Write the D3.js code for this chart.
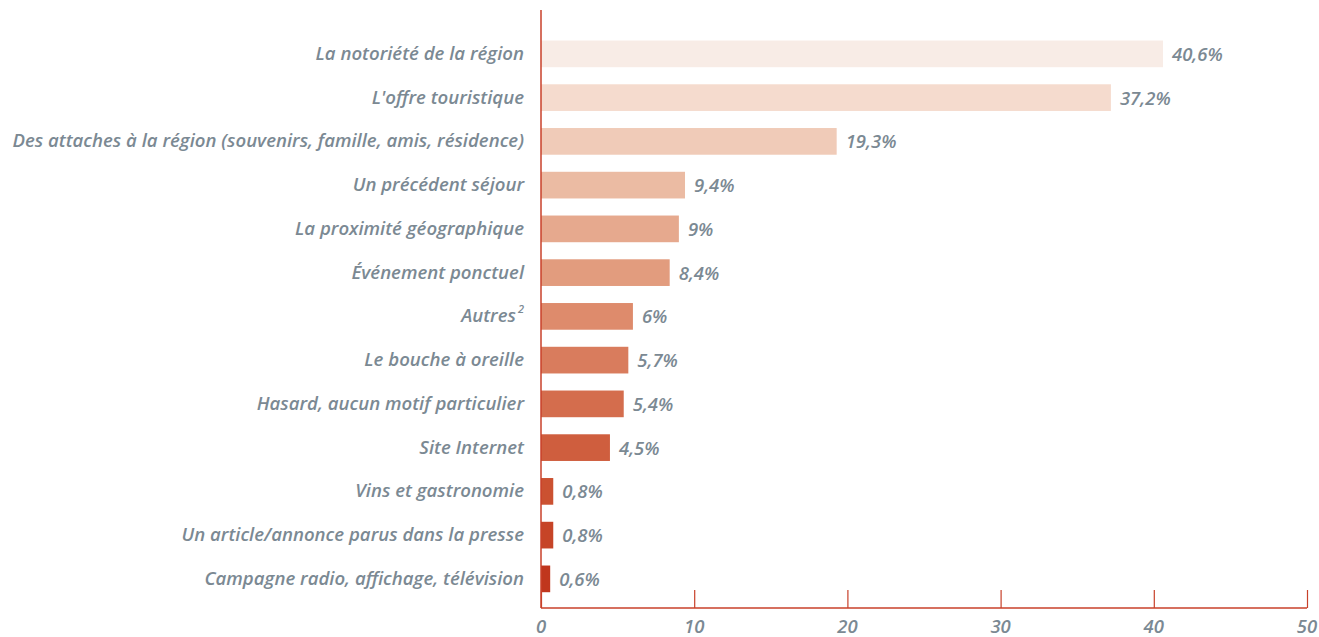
<!doctype html>
<html lang="fr">
<head>
<meta charset="utf-8">
<script src="https://cdn.jsdelivr.net/npm/d3@7"></script>
<style>
	body{
		padding:0px;
		margin:0px;
		background:#fff;
	}
	text{
		font-family:"Open Sans", "DejaVu Sans", sans-serif;
		font-style:italic;
		font-weight:600;
		fill:#7b8993;
	}
</style>
</head>
<body>
<svg id="chartSvg"></svg>
<script>
// data
var categories = [
	"La notoriété de la région",
	"L'offre touristique",
	"Des attaches à la région (souvenirs, famille, amis, résidence)",
	"Un précédent séjour",
	"La proximité géographique",
	"Événement ponctuel",
	"Autres",
	"Le bouche à oreille",
	"Hasard, aucun motif particulier",
	"Site Internet",
	"Vins et gastronomie",
	"Un article/annonce parus dans la presse",
	"Campagne radio, affichage, télévision"
];
var values = [40.6, 37.2, 19.3, 9.4, 9, 8.4, 6, 5.7, 5.4, 4.5, 0.8, 0.8, 0.6];
var valueLabels = ["40,6%","37,2%","19,3%","9,4%","9%","8,4%","6%","5,7%","5,4%","4,5%","0,8%","0,8%","0,6%"];
var xTicks = [0, 10, 20, 30, 40, 50];
var colors = ["#f8ece6","#f5dbce","#f0cbb8","#ebbba3","#e6a98e","#e29c7e","#de8b6c","#d97c5d","#d46d4d","#cf5e3e","#cb5131","#c64427","#c0361d"];

var width = 1319;
var height = 637;
var mLeft = 541;
var mRight = 1307;
var mTop = 32;
var step = 43.75;
var axisY = 608;

var svg = d3.select("#chartSvg").attr("width", width).attr("height", height);

var xScale = d3.scaleLinear().domain([0, 50]).range([mLeft, mRight]);
var yScale = d3.scaleBand().domain(categories).range([mTop, mTop + step*13])
	.paddingInner(0.39).paddingOuter(0.195);

//bars
svg.append("g").selectAll("rect")
	.data(values)
	.enter()
	.append("rect")
	.attr("x", xScale(0))
	.attr("y", function(d,i){return yScale(categories[i]);})
	.attr("width", function(d){return xScale(d)-xScale(0);})
	.attr("height", yScale.bandwidth())
	.attr("fill", function(d,i){return colors[i];});

//value labels
svg.append("g").selectAll("text")
	.data(values)
	.enter()
	.append("text")
	.attr("x", function(d){return xScale(d)+9;})
	.attr("y", function(d,i){return yScale(categories[i])+yScale.bandwidth()/2+2;})
	.attr("dominant-baseline","middle")
	.attr("font-size",18.5)
	.attr("font-weight",700)
	.text(function(d,i){return valueLabels[i];});

//category labels
var cat = svg.append("g").selectAll("text")
	.data(categories)
	.enter()
	.append("text")
	.attr("x", 524)
	.attr("y", function(d){return yScale(d)+yScale.bandwidth()/2+1;})
	.attr("text-anchor","end")
	.attr("dominant-baseline","middle")
	.attr("font-size",18.6)
	.text(function(d){return d;});
cat.filter(function(d){return d=="Autres";})
	.append("tspan")
	.attr("font-size",11)
	.attr("dx",2)
	.attr("dy",-7)
	.text("2");

//x axis
var xAxis = d3.axisTop(xScale).tickValues(xTicks).tickSize(18).tickFormat("");
var gx = svg.append("g")
	.attr("transform","translate(0,"+axisY+")")
	.call(xAxis);
gx.selectAll("line").attr("stroke","#c8412a").attr("stroke-width",1.2);
gx.select(".domain").attr("stroke","#c8412a").attr("stroke-width",1.5).attr("d","M"+mLeft+",0H"+mRight);

svg.append("g").selectAll("text")
	.data(xTicks)
	.enter()
	.append("text")
	.attr("x", function(d){return xScale(d);})
	.attr("y", 628)
	.attr("text-anchor","middle")
	.attr("dominant-baseline","middle")
	.attr("font-size",18.5)
	.attr("font-weight",700)
	.text(function(d){return d;});

//y axis line
svg.append("line")
	.attr("x1", mLeft).attr("x2", mLeft)
	.attr("y1", 10).attr("y2", axisY)
	.style("stroke","#c8412a")
	.style("stroke-width",1.5);
</script>
</body>
</html>
